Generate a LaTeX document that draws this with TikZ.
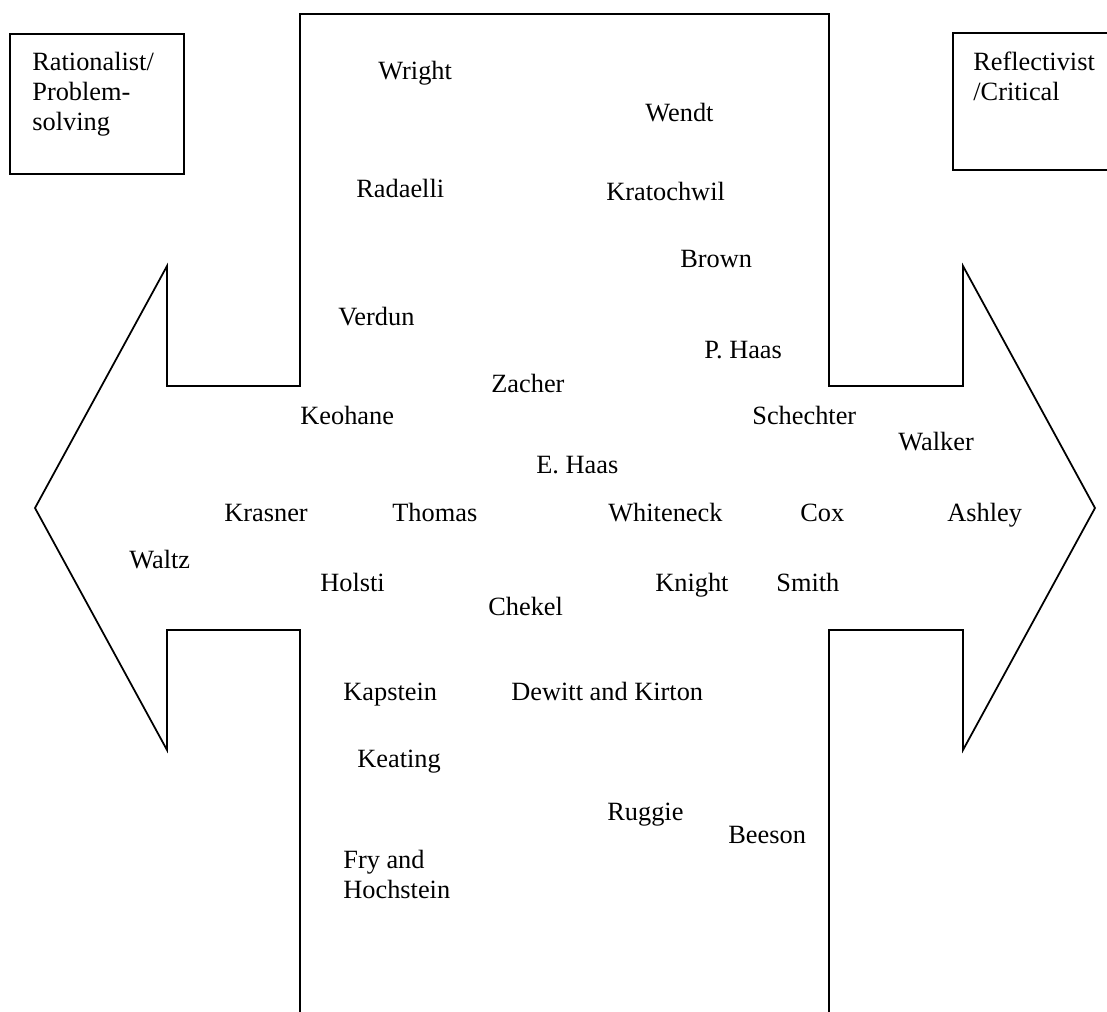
\documentclass[tikz,border=0pt]{standalone}
\usepackage{fontspec}
\setmainfont{Liberation Serif}

\begin{document}
\begin{tikzpicture}[x=0.02cm, y=-0.02cm,
author/.style={anchor=base west, inner sep=0pt, align=left, font=\fontsize{15}{17}\selectfont},
outline/.style={line width=1pt, line join=miter}]

\useasboundingbox (0,0) rectangle (1107,1012);

% the two end boxes (base = last line)
\draw[outline] (10,34) rectangle (184,174);
\draw[outline] (1107,33) -- (953,33) -- (953,170) -- (1107,170);
\node[author] (rational) at (32,130) {Rationalist/\\Problem-\\solving};
\node[author] (reflect) at (973,100) {Reflectivist\\/Critical};

% the cross with the double arrow
\draw[outline] (300,1012) -- (300,630) -- (167,630) -- (167,750) -- (35,508) -- (167,266)
  -- (167,386) -- (300,386) -- (300,14) -- (829,14) -- (829,386) -- (963,386) -- (963,266)
  -- (1095,508) -- (963,750) -- (963,630) -- (829,630) -- (829,1012);

% authors
\node[author] (wright) at (378,79) {Wright};
\node[author] (wendt) at (645,121) {Wendt};
\node[author] (radaelli) at (356,197) {Radaelli};
\node[author] (kratochwil) at (606,200) {Kratochwil};
\node[author] (brown) at (680,267) {Brown};
\node[author] (verdun) at (338,325) {Verdun};
\node[author] (phaas) at (704,358) {P. Haas};
\node[author] (zacher) at (491,392) {Zacher};
\node[author] (keohane) at (300,424) {Keohane};
\node[author] (schechter) at (752,424) {Schechter};
\node[author] (walker) at (898,450) {Walker};
\node[author] (ehaas) at (536,473) {E. Haas};
\node[author] (krasner) at (224,521) {Krasner};
\node[author] (thomas) at (392,521) {Thomas};
\node[author] (whiteneck) at (608,521) {Whiteneck};
\node[author] (cox) at (800,521) {Cox};
\node[author] (ashley) at (947,521) {Ashley};
\node[author] (waltz) at (129,568) {Waltz};
\node[author] (holsti) at (320,591) {Holsti};
\node[author] (knight) at (655,591) {Knight};
\node[author] (smith) at (776,591) {Smith};
\node[author] (chekel) at (488,615) {Chekel};
\node[author] (kapstein) at (343,700) {Kapstein};
\node[author] (dewitt) at (511,700) {Dewitt and Kirton};
\node[author] (keating) at (357,767) {Keating};
\node[author] (ruggie) at (607,820) {Ruggie};
\node[author] (beeson) at (728,843) {Beeson};
\node[author] (fry) at (343,898) {Fry and\\Hochstein};

\end{tikzpicture}
\end{document}
